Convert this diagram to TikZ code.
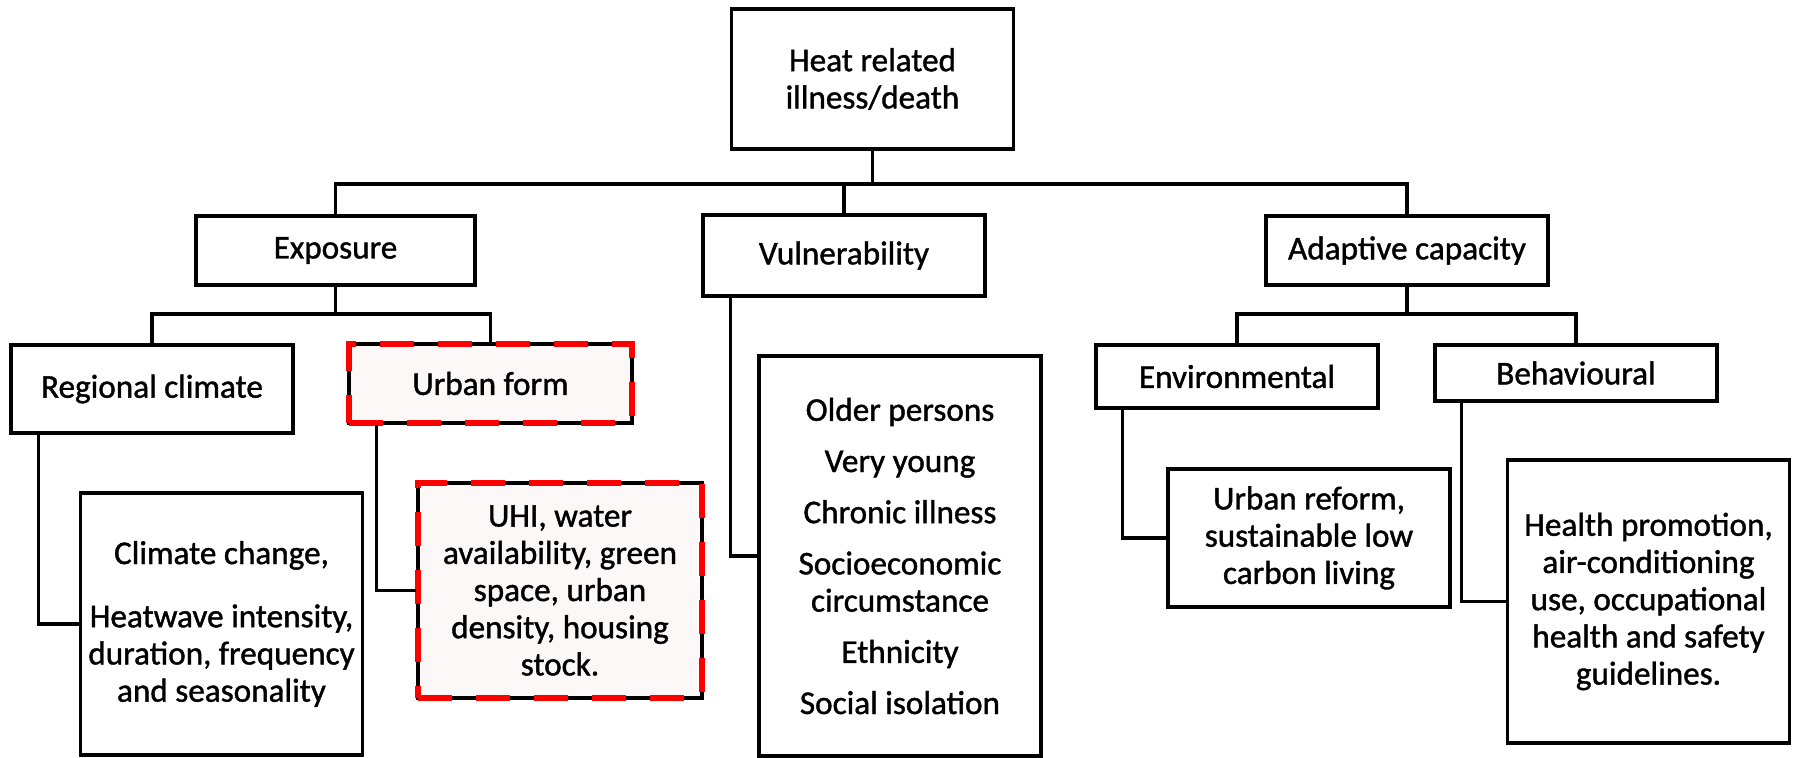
\documentclass[tikz,border=0pt]{standalone}
\usepackage{fontspec}
\setmainfont{Carlito}[RawFeature={embolden=1.2}]
\usepackage{xcolor}
\usepackage{tikz}
\usetikzlibrary{positioning,calc}
\definecolor{hotfill}{RGB}{253,248,248}
\definecolor{hotred}{RGB}{255,0,0}
\tikzset{
  box/.style={draw, line width=1.6pt, align=center, inner sep=3pt,
              minimum width=141pt, font=\fontsize{16.6}{18.6}\selectfont},
  hotbox/.style={box, fill=hotfill,
                 postaction={draw=hotred, line width=3.2pt, dash pattern=on 17pt off 12pt}},
  link/.style={line width=1.6pt}
}

\begin{document}
\begin{tikzpicture}[x=0.5pt, y=-0.5pt]
\useasboundingbox (0,0) rectangle (1795,758);
\node[box, minimum height=70pt] (top) at (872.5,79) {Heat related\\illness/death};
\node[box, minimum width=139.5pt, minimum height=34.5pt] (expo) at (335.5,250.5) {Exposure};
\node[box, minimum height=40.5pt] (vul) at (844,255.5) {Vulnerability};
\node[box, minimum height=34.5pt] (adapt) at (1407,250.5) {Adaptive capacity};
\node[box, minimum height=44pt] (regional) at (152,389) {Regional climate};
\node[hotbox, minimum width=141.5pt, minimum height=39.5pt] (urban) at (490.5,383.5) {Urban form};
\node[box, minimum height=131pt] (climate) at (221.5,624) {Climate change,\\[13pt]Heatwave intensity,\\duration, frequency\\and seasonality};
\node[hotbox, minimum width=142pt, minimum height=107.5pt] (uhi) at (560,590.5) {UHI, water\\availability, green\\space, urban\\density, housing\\stock.};
\node[box, minimum height=200pt] (vullist) at (900,556) {Older persons\\[7pt]Very young\\[7pt]Chronic illness\\[7pt]Socioeconomic\\circumstance\\[7pt]Ethnicity\\[7pt]Social isolation};
\node[box, minimum height=31.5pt] (env) at (1237,376.5) {Environmental};
\node[box, minimum height=28pt] (beh) at (1576,373) {Behavioural};
\node[box, minimum height=69pt] (reform) at (1309,538) {Urban reform,\\sustainable low\\carbon living};
\node[box, minimum height=141.5pt] (health) at (1648.5,601.5) {Health promotion,\\air-conditioning\\use, occupational\\health and safety\\guidelines.};

\coordinate (bus) at (872.5,184);
\coordinate (expobus) at (335.5,314);
\coordinate (adaptbus) at (1407,314);

\draw[link] (top.south) -- (bus);
\draw[link] (expo.north) |- (bus) -| (adapt.north);
\draw[link] (vul.north) -- (vul.north |- bus);
\draw[link] (expo.south) -- (expobus);
\draw[link] (regional.north) |- (expobus) -| (urban.north);
\draw[link] (adapt.south) -- (adaptbus);
\draw[link] (env.north) |- (adaptbus) -| (beh.north);
\draw[link] ([xshift=14.5pt]regional.south west) |- (climate.west);
\draw[link] ([xshift=14.5pt]urban.south west) |- (uhi.west);
\draw[link] ([xshift=14.5pt]vul.south west) |- (vullist.west);
\draw[link] ([xshift=14pt]env.south west) |- (reform.west);
\draw[link] ([xshift=14pt]beh.south west) |- (health.west);
\end{tikzpicture}
\end{document}
